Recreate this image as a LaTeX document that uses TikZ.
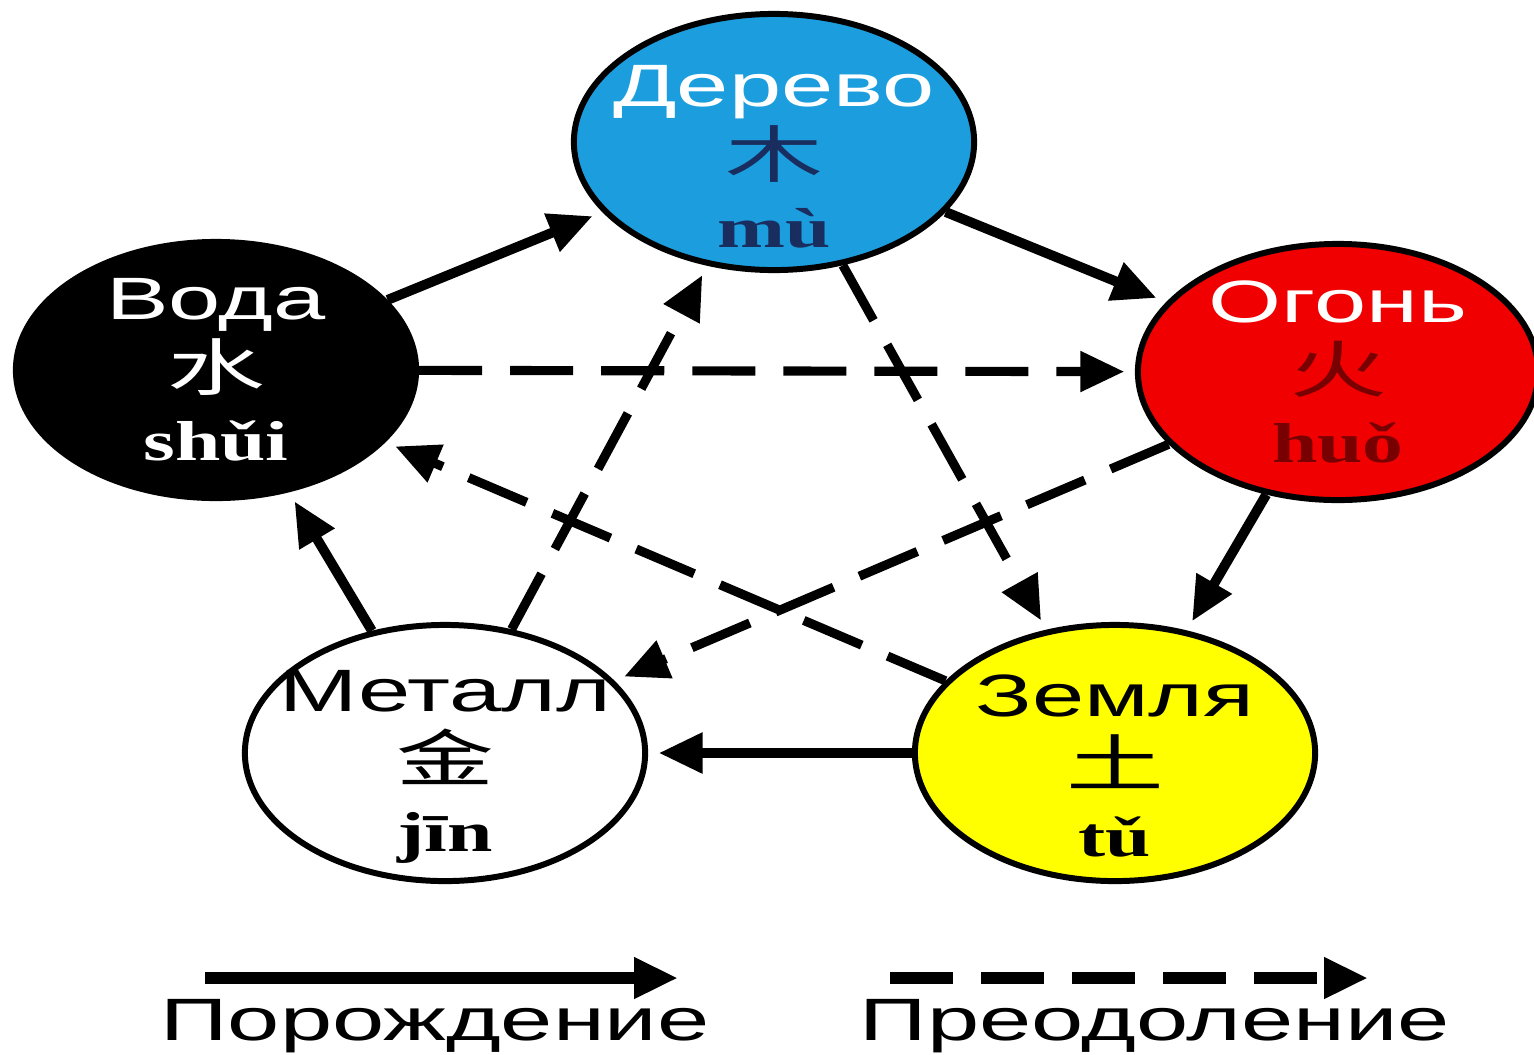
\documentclass[tikz,border=0pt]{standalone}
\usepackage{fontspec}
\usepackage{xcolor}
\usetikzlibrary{arrows.meta,shapes.geometric}
\newfontfamily\rufont{Liberation Sans}[FakeStretch=1.57]
\newfontfamily\pyfont{Liberation Serif}[FakeStretch=1.45]
\newfontfamily\cjkfont{Noto Sans CJK SC}[FakeStretch=1.58]
\newcommand{\hanzi}{\cjkfont\fontsize{17.6}{20}\selectfont}
\newcommand{\pinyin}{\pyfont\bfseries\fontsize{16}{20}\selectfont}
\definecolor{woodblue}{RGB}{28,158,222}
\definecolor{firered}{RGB}{240,0,0}
\definecolor{earthyellow}{RGB}{255,255,0}
\definecolor{woodink}{RGB}{25,45,95}
\definecolor{fireink}{RGB}{120,0,0}

\begin{document}
\begin{tikzpicture}[
    x=0.01cm,y=-0.01cm,
    >={Triangle[length=12.5pt,width=11pt]},
    elem/.style={
      ellipse,draw=black,line width=1.7pt,
      minimum width=4cm,minimum height=2.56cm,inner sep=0pt
    },
    lbl/.style={
      align=center,inner sep=0pt,
      font=\rufont\fontsize{17}{20}\selectfont
    },
    gen/.style={->,line width=2.8pt,shorten >=3pt},
    ctrl/.style={->,line width=2.6pt,dash pattern=on 0.63cm off 0.28cm,shorten >=3pt}
  ]
    \useasboundingbox (0,0) rectangle (1534,1054);

    % five elements
    \node[elem,fill=woodblue] (wood) at (774,142) {};
    \node[elem,fill=black] (water) at (216,370) {};
    \node[elem,fill=firered] (fire) at (1338,372) {};
    \node[elem,fill=white] (metal) at (445,753) {};
    \node[elem,fill=earthyellow] (earth) at (1115,753) {};

    \node[lbl,text=white,yshift=-0.15cm] (wood-t) at (wood)
      {Дерево\\{\hanzi\color{woodink}木}\\{\pinyin\color{woodink}mù}};
    \node[lbl,text=white] (water-t) at (water)
      {Вода\\{\hanzi 水}\\{\pinyin shǔi}};
    \node[lbl,text=white] (fire-t) at (fire)
      {Огонь\\{\hanzi\color{fireink}火}\\{\pinyin\color{fireink}huǒ}};
    \node[lbl,text=black,yshift=-0.14cm] (metal-t) at (metal)
      {Металл\\{\hanzi 金}\\{\pinyin jīn}};
    \node[lbl,text=black,yshift=-0.13cm] (earth-t) at (earth)
      {Земля\\{\hanzi 土}\\{\pinyin tǔ}};

    % generating cycle
    \draw[gen] (water) -- (wood);
    \draw[gen] (wood) -- (fire);
    \draw[gen] (fire) -- (earth);
    \draw[gen] (earth) -- (metal);
    \draw[gen] (metal) -- (water);

    % overcoming cycle
    \draw[ctrl] (water) -- (fire);
    \draw[ctrl] (wood) -- (earth);
    \draw[ctrl] (fire) -- (metal);
    \draw[ctrl] (earth) -- (water);
    \draw[ctrl] (metal) -- (wood);

    % legend
    \coordinate (gen-a) at (205,978);
    \coordinate (gen-b) at (678,978);
    \coordinate (ctrl-a) at (890,978);
    \coordinate (ctrl-b) at (1368,978);
    \draw[gen,line width=3.5pt,shorten >=0pt] (gen-a) -- (gen-b);
    \draw[ctrl,line width=3.5pt,shorten >=0pt] (ctrl-a) -- (ctrl-b);
    \node[lbl,anchor=base] (gen-t) at (435,1040) {Порождение};
    \node[lbl,anchor=base] (ctrl-t) at (1155,1040) {Преодоление};
  \end{tikzpicture}
\end{document}
